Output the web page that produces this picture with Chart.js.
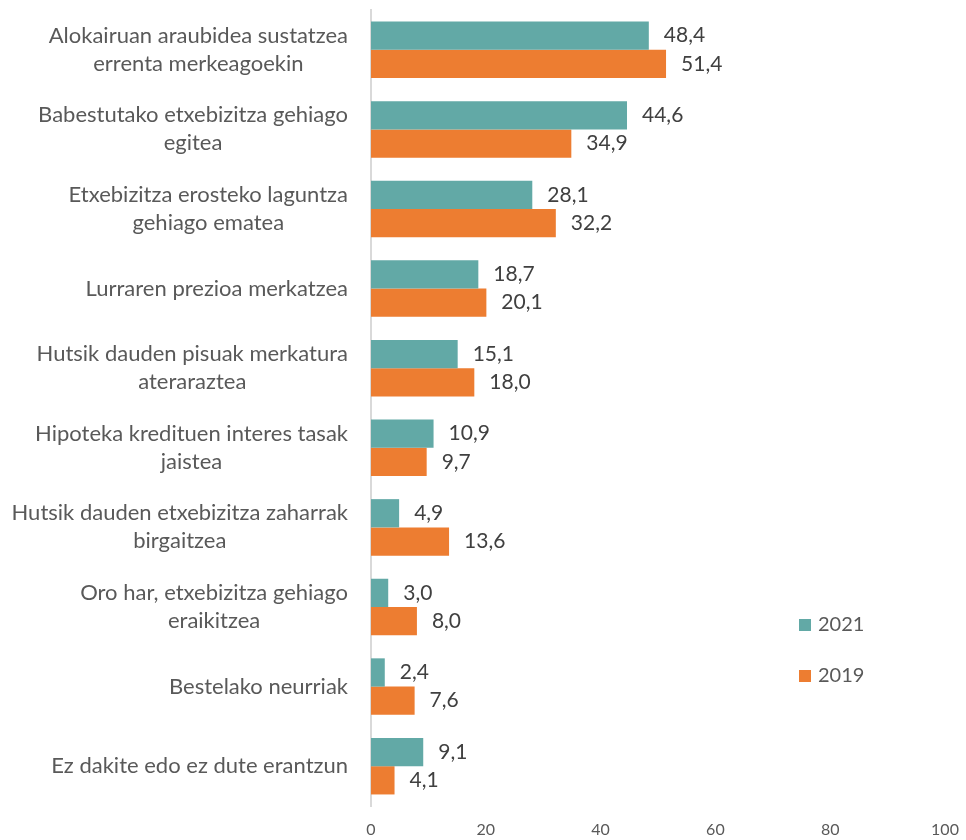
<!DOCTYPE html>
<html>
<head>
<meta charset="utf-8">
<script src="https://cdn.jsdelivr.net/npm/chart.js@4"></script>
<style>
  html, body { margin: 0; padding: 0; background: #fff; overflow: hidden; }
  #wrap { width: 966px; height: 840px; position: relative; overflow: hidden; }
  canvas { display: block; }
</style>
</head>
<body>
<div id="wrap"><canvas id="grafico"></canvas></div>
<script>
const categorias = [
  ["Alokairuan araubidea sustatzea", "errenta merkeagoekin"],
  ["Babestutako etxebizitza gehiago", "egitea"],
  ["Etxebizitza erosteko laguntza", "gehiago ematea"],
  ["Lurraren prezioa merkatzea"],
  ["Hutsik dauden pisuak merkatura", "ateraraztea"],
  ["Hipoteka kredituen interes tasak", "jaistea"],
  ["Hutsik dauden etxebizitza zaharrak", "birgaitzea"],
  ["Oro har, etxebizitza gehiago", "eraikitzea"],
  ["Bestelako neurriak"],
  ["Ez dakite edo ez dute erantzun"]
];
const urteak = ["2021", "2019"];
const datos2021 = [48.4, 44.6, 28.1, 18.7, 15.1, 10.9, 4.9, 3.0, 2.4, 9.1];
const datos2019 = [51.4, 34.9, 32.2, 20.1, 18.0, 9.7, 13.6, 8.0, 7.6, 4.1];
const ejeX = [0, 20, 40, 60, 80, 100];

const colores = ['#62A9A6', '#ED7D31'];
const fuente = 'Lato, "Open Sans", sans-serif';

// etiquetas del eje Y: bloque alineado a la derecha, líneas centradas
const etiquetasY = {
  id: 'etiquetasY',
  afterDraw(chart) {
    const c = chart.ctx;
    const y = chart.scales.y;
    c.save();
    c.font = '22px ' + fuente;
    c.fillStyle = '#595959';
    c.textAlign = 'center';
    c.textBaseline = 'middle';
    categorias.forEach((lineas, i) => {
      const py = y.getPixelForTick(i);
      const ancho = Math.max(...lineas.map(l => c.measureText(l).width));
      const cx = 348 - ancho / 2;
      const alto = 28;
      lineas.forEach((l, j) => {
        c.fillText(l, cx, py + (j - (lineas.length - 1) / 2) * alto);
      });
    });
    c.restore();
  }
};

// valores junto a las barras y leyenda
const valores = {
  id: 'valores',
  afterDatasetsDraw(chart) {
    const c = chart.ctx;
    c.save();
    c.font = '21px ' + fuente;
    c.fillStyle = '#404040';
    c.textAlign = 'left';
    c.textBaseline = 'middle';
    chart.data.datasets.forEach((ds, d) => {
      chart.getDatasetMeta(d).data.forEach((bar, i) => {
        c.fillText(ds.data[i].toFixed(1).replace('.', ','), bar.x + 15, bar.y);
      });
    });
    // leyenda
    c.font = '20px ' + fuente;
    const leyY = [625, 676];
    urteak.forEach((u, k) => {
      c.fillStyle = colores[k];
      c.fillRect(799, leyY[k] - 6, 12, 12);
      c.fillStyle = '#595959';
      c.fillText(u, 818, leyY[k]);
    });
    c.restore();
  }
};

new Chart(document.getElementById('grafico'), {
  type: 'bar',
  data: {
    labels: categorias,
    datasets: [
      { label: urteak[0], data: datos2021, backgroundColor: colores[0] },
      { label: urteak[1], data: datos2019, backgroundColor: colores[1] }
    ]
  },
  options: {
    indexAxis: 'y',
    responsive: true,
    maintainAspectRatio: false,
    animation: false,
    layout: { padding: { top: 10, right: 21, left: 0, bottom: 0 } },
    datasets: { bar: { categoryPercentage: 0.71, barPercentage: 1.0 } },
    plugins: {
      legend: { display: false },
      tooltip: { enabled: false }
    },
    scales: {
      x: {
        min: 0,
        max: 100,
        afterBuildTicks(s) { s.ticks = ejeX.map(v => ({ value: v })); },
        grid: { display: false, drawTicks: false },
        border: { display: false },
        ticks: {
          color: '#595959',
          font: { family: fuente, size: 16 },
          padding: 14
        },
        afterFit(s) { s.height = 34; s.paddingRight = 0; }
      },
      y: {
        grid: { display: false, drawTicks: false },
        border: { color: '#d9d9d9', width: 2 },
        ticks: { display: false },
        afterFit(s) { s.width = 371; }
      }
    }
  },
  plugins: [etiquetasY, valores]
});
</script>
</body>
</html>
